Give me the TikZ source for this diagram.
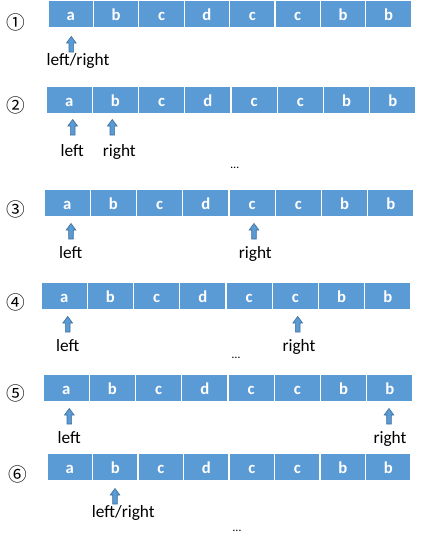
\documentclass[tikz,border=0pt]{standalone}
\usepackage{fontspec}
\setmainfont{Carlito}
\newfontfamily\circfont{Noto Sans CJK SC}
\definecolor{cellblue}{HTML}{5B9BD5}
\definecolor{arrdark}{HTML}{41719C}
\begin{document}
\begin{tikzpicture}[x=0.75pt,y=-0.75pt,
  cellbox/.style={rectangle, fill=cellblue, draw=white, line width=0.8pt, inner sep=0pt,
    minimum height=21pt, text=white, font=\bfseries\fontsize{12.5}{12.5}\selectfont,
    text height=9.5pt, text depth=0pt},
  lbl/.style={anchor=base, inner sep=0pt, font=\fontsize{13}{13}\selectfont},
  dots/.style={anchor=base, inner sep=0pt, font=\fontsize{9}{9}\selectfont},
  circnum/.style={inner sep=0pt, font=\circfont\fontsize{14}{14}\selectfont},
  uparr/.pic={\draw[fill=cellblue, draw=arrdark, line width=0.5pt, line join=miter]
    (-2.3,0) -- (-2.3,-9) -- (-4.8,-9) -- (0,-15.5) -- (4.8,-9) -- (2.3,-9) -- (2.3,0) -- cycle;}]
\useasboundingbox (0,0) rectangle (424,539);
\fill[white] (0,0) rectangle (424,539);
% rows: name / x0 / y0 / cell width
\foreach \r/\xo/\yo/\w in {1/48/0/45.4, 2/46/86/46.25, 3/44/189/46.25, 4/41/282/46.25, 5/43/374/46.25, 6/47/453/45.5}{
  \foreach \ch [count=\i from 0] in {a,b,c,d,c,c,b,b}{
    \node[cellbox, minimum width=\w*0.75pt] (c\r-\i) at ({\xo+(\i+0.5)*\w},{\yo+14}) {\ch};
  }
}
% circled numbers
\node[circnum] (n1) at (15.7,22) {①};
\node[circnum] (n2) at (15.7,105) {②};
\node[circnum] (n3) at (15.7,209) {③};
\node[circnum] (n4) at (15.7,302) {④};
\node[circnum] (n5) at (15.7,393) {⑤};
\node[circnum] (n6) at (18.3,474) {⑥};
% arrows (bottom point given)
\coordinate (p1) at (71.3,52);
\coordinate (p2l) at (72.7,135);
\coordinate (p2r) at (112.3,135);
\coordinate (p3l) at (71,239);
\coordinate (p3r) at (254,239);
\coordinate (p4l) at (67.7,332);
\coordinate (p4r) at (297.7,332);
\coordinate (p5l) at (69.3,424);
\coordinate (p5r) at (389,424);
\coordinate (p6) at (115,504);
\foreach \p in {p1,p2l,p2r,p3l,p3r,p4l,p4r,p5l,p5r,p6}{
  \pic at (\p) {uparr};
}
% labels
\node[lbl] (l1) at (78,65) {left/right};
\node[lbl] (l2l) at (72.3,156) {left};
\node[lbl] (l2r) at (119.3,156) {right};
\node[lbl] (l3l) at (70.7,258) {left};
\node[lbl] (l3r) at (255.3,258) {right};
\node[lbl] (l4l) at (67.7,351) {left};
\node[lbl] (l4r) at (299,351) {right};
\node[lbl] (l5l) at (69.3,443) {left};
\node[lbl] (l5r) at (390,443) {right};
\node[lbl] (l6) at (123.3,517) {left/right};
% ellipses
\node[dots] (e2) at (234.7,168) {…};
\node[dots] (e4) at (236,358) {…};
\node[dots] (e6) at (237,531) {…};
\end{tikzpicture}
\end{document}
